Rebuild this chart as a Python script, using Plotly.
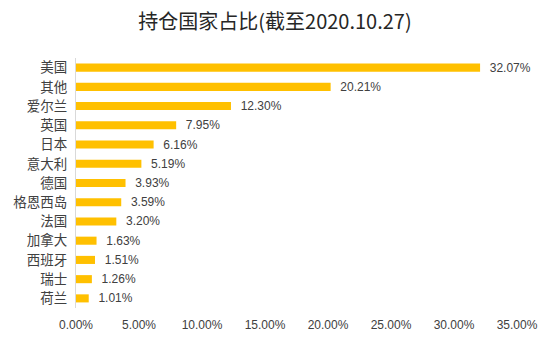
import plotly.graph_objects as go

categories = ["美国", "其他", "爱尔兰", "英国", "日本", "意大利", "德国", "格恩西岛", "法国", "加拿大", "西班牙", "瑞士", "荷兰"]
values = [32.07, 20.21, 12.30, 7.95, 6.16, 5.19, 3.93, 3.59, 3.20, 1.63, 1.51, 1.26, 1.01]
tick_vals = [0, 5, 10, 15, 20, 25, 30, 35]
tick_text = ["0.00%", "5.00%", "10.00%", "15.00%", "20.00%", "25.00%", "30.00%", "35.00%"]

font_fam = "Liberation Sans, Noto Sans CJK SC, sans-serif"

fig = go.Figure(go.Bar(
    y=categories,
    x=values,
    orientation="h",
    marker=dict(color="#FFC000", line=dict(width=0)),
    width=0.42,
    text=[f"  {v:.2f}%" for v in values],
    textposition="outside",
    constraintext="none",
    textfont=dict(size=12, color="#404040", family=font_fam),
    cliponaxis=False,
))

fig.update_layout(
    width=550, height=344,
    margin=dict(l=76, r=27, t=58, b=36),
    paper_bgcolor="white",
    plot_bgcolor="white",
    showlegend=False,
    title=dict(text="持仓国家占比(截至2020.10.27)", x=0.5, xanchor="center", y=0.936, yanchor="middle",
               font=dict(size=20, color="#262626", family="Noto Sans CJK SC, sans-serif")),
    font=dict(family=font_fam, color="#404040"),
)

fig.update_xaxes(
    range=[0, 35],
    tickvals=tick_vals,
    ticktext=tick_text,
    showgrid=False,
    zeroline=False,
    showline=False,
    ticks="",
    tickfont=dict(size=12, color="#404040"),
    ticklabelstandoff=8,
)
fig.update_yaxes(
    categoryorder="array",
    categoryarray=categories,
    autorange="reversed",
    showgrid=False,
    showline=True,
    linecolor="#D9D9D9",
    linewidth=1,
    ticks="",
    tickfont=dict(size=13.5, color="#404040", family="Noto Sans CJK SC, sans-serif"),
    ticklabelstandoff=5,
)

fig.write_html("out.html")
